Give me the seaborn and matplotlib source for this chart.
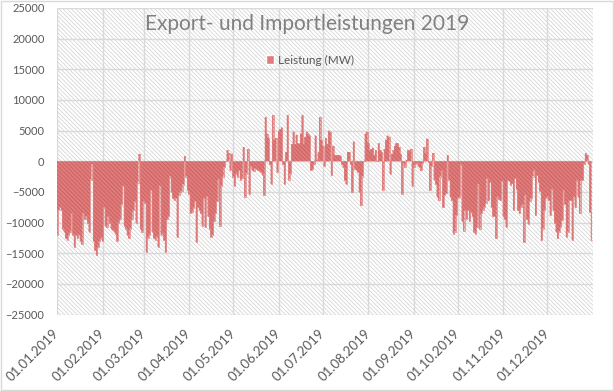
import numpy as np
import pandas as pd
import matplotlib
matplotlib.use("Agg")
import matplotlib.pyplot as plt
import matplotlib.dates as mdates
from matplotlib.patches import Patch, Rectangle
import seaborn as sns

# daily export(+)/import(-) power in MW
jan = [-12000, -8000, -7500, -8000, -11000, -11500, -12500, -12800, -12000, -11500,
       -8500, -12000, -14000, -12000, -12500, -12000, -13000, -13500, -8500, -9500,
       -9000, -10000, -11500, -3000, -500, -13000, -14500, -15300, -14000, -13000,
       -12500]
feb = [-13000, -7500, -10500, -10800, -9000, -10000, -11000, -11200, -11500, -11800,
       -13000, -10000, -9500, -7000, -4000, -10500, -11000, -12000, -12500, -11000,
       -9500, -8000, -6500, -10000, -3500, 1200, -11000, -11500]
mar = [-6500, -6800, -14800, -12500, -12000, -4700, -11500, -12500, -12800, -12300,
       -14000, -4000, -12000, -11800, -12900, -14800, -9500, -9000, -2500, -5000,
       -6000, -6400, -6000, -12400, -5500, -5000, -4800, -3800, 800, -2500,
       -4700]
apr = [-5300, -8500, -8300, -7600, -6500, -13200, -7500, -8000, -8500, -10500,
       -6000, -10800, -5700, -9000, -11000, -12300, -12000, -9800, -8500, -6500,
       -3000, -10500, -4000, -2500, -1000, 0, 1800, 1300, -1500, 1200]
may = [-2500, -4000, -2000, -2500, -1500, -3000, -2800, 2300, -5800, -2000,
       2000, -5300, -800, -1500, -1600, -1200, -1300, -1500, -1600, -1800,
       -2200, -5500, 7200, 4500, 3800, -500, -3700, 7500, 3500, 3800,
       -1800]
jun = [5000, 5200, 5500, -500, -3700, 1500, 7500, -3000, -2000, 2800,
       4800, 2800, 4300, 2900, 2800, 4500, 7500, 2800, 4000, 4800,
       4500, 4200, -1500, -1300, -500, 4200, 200, 1500, 7200, 3500]
jul = [2500, -800, 3800, 2800, 5000, 4800, -2300, 2500, 1000, 1000,
       1000, 1000, 800, -500, -1000, -3100, -3700, 1500, 1500, -500,
       -5000, 3200, -1200, -1500, -1800, -5000, -7200, -2500, 0, 4500,
       4800]
aug = [3000, 1800, 2000, 2200, 1000, 1800, 0, 2900, 1800, 1500,
       -4700, 2000, 3500, 4200, 4000, -2000, 1200, 1800, 2500, 2900,
       2900, 2300, 1200, -5300, -400, -900, 200, 1800, 1700, 2000,
       -4000]
sep = [-1000, -500, -300, -800, -1000, -1500, -300, 2300, 1300, 3700,
       -200, -4700, -800, 1300, -3000, -3700, -5800, -6400, -2500, -1500,
       -7500, -5500, -5200, 1000, -3000, -5800, -6400, -11800, -11500, -8800]
okt = [-6000, -5800, -500, -9800, -11300, -8000, -9400, -8000, -9800, -8300,
       -9000, -11500, -11800, -10800, -3700, -11000, -8500, -8000, -7500, -6800,
       -2800, -6400, -3400, -7500, -9000, -9000, -12600, -5800, -6200, -6400,
       -3200]
nov = [-9000, -9500, -10700, -3100, -3300, -3800, -3600, -8000, -2800, -4500,
       -8000, -8500, -7500, -7000, -13200, -5500, -9500, -10200, -6500, -6000,
       -2500, -1500, -8800, -2300, -3400, -4800, -12900, -11000, -8000, -6000]
dez = [-5800, -6400, -8800, -4500, -8000, -10000, -11500, -12600, -11500, -10700,
       -9600, -4700, -7000, -12300, -11500, -6400, -6400, -12900, -5800, -7500,
       -3100, -5800, -8500, -3100, -3100, -400, 1300, 1000, -400, -8300,
       -12900]

leistung = jan + feb + mar + apr + may + jun + jul + aug + sep + okt + nov + dez
dates = pd.date_range("2019-01-01", periods=len(leistung), freq="D")
month_starts = pd.date_range("2019-01-01", "2019-12-01", freq="MS")
df = pd.DataFrame({"Datum": dates, "Leistung": leistung})

red = "#e07c7c"
grid = "#d9d9d9"
txt = "#595959"

sns.set_style("white")
plt.rcParams["font.family"] = ["Lato", "DejaVu Sans"]
plt.rcParams["hatch.linewidth"] = 0.6

fig = plt.figure(figsize=(6.14, 3.91), dpi=100)
ax = fig.add_axes([57 / 614, 1 - 314.5 / 391, 536 / 614, 306.5 / 391])

# hatched plot area like the excel pattern fill
ax.set_facecolor("white")
ax.patch.set_hatch("\\" * 8)
ax.patch.set_edgecolor("#d6d6d6")
ax.patch.set_linewidth(0)

plt.rcParams["hatch.color"] = "#c95f5f"
ax.fill_between(df["Datum"], df["Leistung"], 0, step="mid",
                facecolor=red, edgecolor="#c95f5f", hatch="\\" * 8,
                linewidth=0, zorder=2)
sns.lineplot(data=df, x="Datum", y="Leistung", ax=ax, color=red,
             linewidth=0.5, drawstyle="steps-mid", zorder=3)

ax.set_xlim(pd.Timestamp("2019-01-01"), pd.Timestamp("2020-01-01"))
ax.set_ylim(-25000, 25000)
ax.set_yticks(np.arange(-25000, 25001, 5000))
ax.set_xticks(month_starts)
ax.xaxis.set_major_formatter(mdates.DateFormatter("%d.%m.%Y"))

ax.grid(True, color=grid, linewidth=1, zorder=1)
ax.set_axisbelow(True)
for s in ax.spines.values():
    s.set_visible(False)

ax.tick_params(axis="y", length=0, pad=9, labelsize=8, labelcolor=txt)
ax.tick_params(axis="x", length=0, pad=12, labelsize=9.5, labelcolor=txt)
for lab in ax.get_xticklabels():
    lab.set_rotation(45)
    lab.set_ha("right")
    lab.set_va("center")
    lab.set_rotation_mode("anchor")

ax.set_xlabel("")
ax.set_ylabel("")

fig.text(0.5, 1 - 24 / 391, "Export- und Importleistungen 2019", ha="center",
         va="center", fontsize=15, color="#808080")

ax.legend(handles=[Patch(facecolor=red, label="Leistung (MW)")],
          loc="center", bbox_to_anchor=(310 / 614, 1 - 60 / 391),
          bbox_transform=fig.transFigure, frameon=False, fontsize=8.5,
          labelcolor=txt, handlelength=0.7, handleheight=0.7,
          handletextpad=0.3)

fig.patches.append(Rectangle((0.001, 0.002), 0.997, 0.996, transform=fig.transFigure,
                             fill=False, edgecolor=grid, linewidth=1))

fig.savefig("out.png", dpi=100)
